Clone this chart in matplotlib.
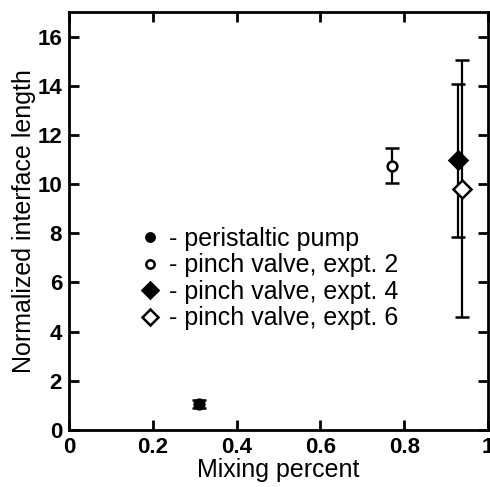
import matplotlib.pyplot as plt
from matplotlib.lines import Line2D

plt.rcParams['font.family'] = ['Liberation Sans', 'DejaVu Sans']

# data
labels = ['- peristaltic pump', '- pinch valve, expt. 2',
          '- pinch valve, expt. 4', '- pinch valve, expt. 6']
mixing = [0.311, 0.770, 0.929, 0.937]
length = [1.05, 10.75, 10.97, 9.82]
err_lo = [0.15, 0.72, 3.12, 5.21]
err_hi = [0.15, 0.72, 3.12, 5.21]
markers = ['o', 'o', 'D', 'D']
fills = ['black', 'white', 'black', 'white']
sizes = [7, 7, 9, 9]

fig = plt.figure(figsize=(4.9, 4.87), dpi=100)
ax = fig.add_axes([69 / 490, 57 / 487, 419 / 490, 418 / 487])

handles = []
for i in range(len(labels)):
    ax.errorbar(mixing[i], length[i], yerr=[[err_lo[i]], [err_hi[i]]],
                fmt=markers[i], color='black', mfc=fills[i], mec='black',
                mew=1.8, ms=sizes[i], ecolor='black', elinewidth=1.6,
                capsize=5, capthick=1.6)
    handles.append(Line2D([], [], ls='none', marker=markers[i],
                          mfc=fills[i], mec='black', mew=1.8,
                          ms=sizes[i] - 1))

ax.set_xlim(0, 1)
ax.set_ylim(0, 17)
ax.set_xticks([0, 0.2, 0.4, 0.6, 0.8, 1])
ax.set_xticklabels(['0', '0.2', '0.4', '0.6', '0.8', '1'])
ax.set_yticks(range(0, 17, 2))
ax.tick_params(direction='in', top=True, right=True, length=7, width=2,
               labelsize=16, pad=5)
for t in ax.get_xticklabels() + ax.get_yticklabels():
    t.set_fontweight('bold')
for s in ax.spines.values():
    s.set_linewidth(2)

ax.set_xlabel('Mixing percent', fontsize=18, labelpad=0)
ax.set_ylabel('Normalized interface length', fontsize=18, labelpad=1)

ax.legend(handles, labels, loc='center left', bbox_to_anchor=(0.14, 0.362),
          frameon=False, fontsize=18, handletextpad=0.35, labelspacing=0.1,
          handlelength=0.8, borderpad=0)

fig.savefig('out.png', dpi=100)
